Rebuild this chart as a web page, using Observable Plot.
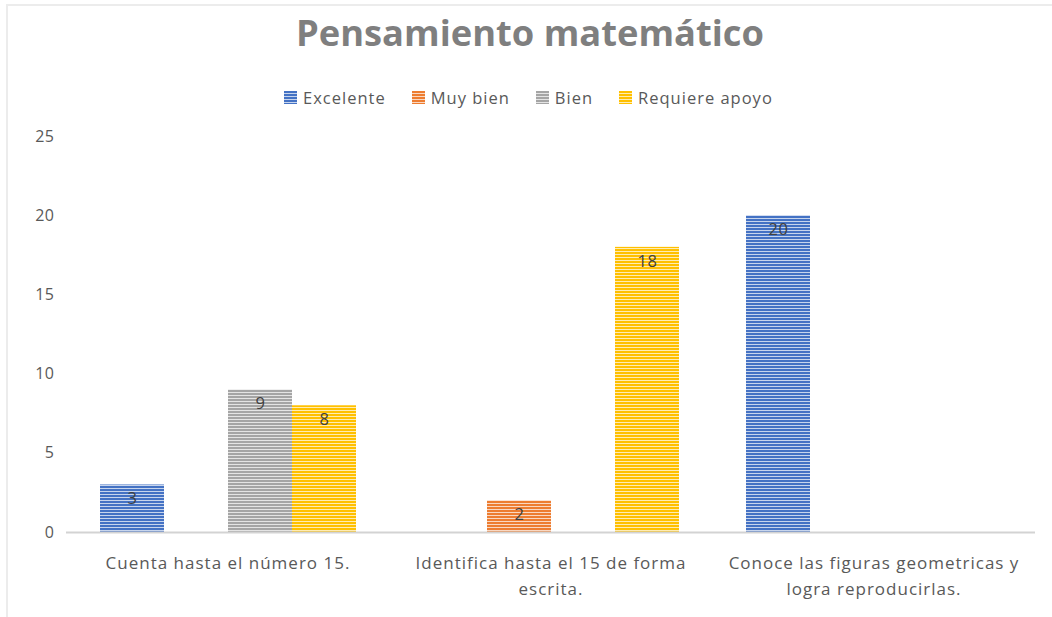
<!DOCTYPE html>
<html>
<head>
<meta charset="utf-8">
<script src="https://cdn.jsdelivr.net/npm/d3@7"></script>
<script src="https://cdn.jsdelivr.net/npm/@observablehq/plot@0.6"></script>
<style>
  html, body { margin: 0; padding: 0; background: #fff; }
  #wrap { position: relative; width: 1052px; height: 617px; overflow: hidden; font-family: "Open Sans", "Noto Sans", sans-serif; }
  #frame { position: absolute; left: 6px; top: 4px; right: -5px; bottom: -5px; border-left: 2px solid #ececec; border-top: 2px solid #ececec; }
  #title { position: absolute; left: 0; width: 1060px; top: 7px; text-align: center; font-size: 36.3px; font-weight: 700; color: #7f7f7f; }
  #legend { position: absolute; left: 284px; top: 86px; display: flex; gap: 26px; font-size: 16.5px; letter-spacing: 1px; color: #595959; white-space: nowrap; }
  #legend span.item { display: inline-flex; align-items: center; gap: 6px; }
  #legend svg { display: block; }
  #chart { position: absolute; left: 0; top: 0; }
  #chart svg text { letter-spacing: 0.5px; }
  #chart svg g.catlabel text { letter-spacing: 1px; }
</style>
</head>
<body>
<div id="wrap">
  <div id="frame"></div>
  <div id="chart"></div>
  <div id="title"></div>
  <div id="legend"></div>
</div>
<script>
const titleText = "Pensamiento matemático";
const categories = ["Cuenta hasta el número 15.", "Identifica hasta el 15 de forma escrita.", "Conoce las figuras geometricas y logra reproducirlas."];
const categoryLabels = ["Cuenta hasta el número 15.", "Identifica hasta el 15 de forma\nescrita.", "Conoce las figuras geometricas y\nlogra reproducirlas."];
const series = ["Excelente", "Muy bien", "Bien", "Requiere apoyo"];
const colors = ["#4472C4", "#ED7D31", "#A5A5A5", "#FFC000"];
const excelente = [3, 0, 20];
const muyBien = [0, 2, 0];
const bien = [9, 0, 0];
const requiereApoyo = [8, 18, 0];
const yTicks = [0, 5, 10, 15, 20, 25];

const valuesBySeries = [excelente, muyBien, bien, requiereApoyo];
const data = [];
series.forEach((s, si) => categories.forEach((c, ci) => {
  data.push({category: c, series: s, value: valuesBySeries[si][ci]});
}));
const patId = s => "pat" + series.indexOf(s);

document.getElementById("title").textContent = titleText;

const chart = Plot.plot({
  width: 1052,
  height: 617,
  marginLeft: 65,
  marginRight: 17,
  marginTop: 136,
  marginBottom: 85,
  style: {fontFamily: "'Open Sans', 'Noto Sans', sans-serif", background: "transparent", overflow: "visible"},
  fx: {domain: categories, padding: 0, axis: null},
  x: {domain: series, paddingInner: 0, paddingOuter: 0.5, axis: null},
  y: {domain: [0, 25], axis: null},
  marks: [
    Plot.barY(data.filter(d => d.value > 0), {
      fx: "category", x: "series", y: "value",
      fill: d => `url(#${patId(d.series)})`
    }),
    Plot.ruleY([0], {stroke: "#d3d3d3", strokeWidth: 2}),
    Plot.text(data.filter(d => d.value > 0), {
      fx: "category", x: "series", y: "value", text: d => String(d.value),
      dy: 14, fill: "#404040", fontSize: 16.5
    }),
    Plot.axisY({ticks: yTicks, tickSize: 0, tickPadding: 12, label: null, fontSize: 16, color: "#595959", textAnchor: "end"}),
    Plot.text(categories, {
      fx: d => d, frameAnchor: "bottom",
      text: d => categoryLabels[categories.indexOf(d)],
      dy: 17, lineAnchor: "top", fill: "#595959", fontSize: 17, lineHeight: 1.58,
      className: "catlabel"
    })
  ]
});

// Pattern defs for striped bars (Excel "narrow horizontal")
const svgNS = "http://www.w3.org/2000/svg";
function addPatterns(svg, prefix) {
  const defs = document.createElementNS(svgNS, "defs");
  colors.forEach((c, i) => {
    const p = document.createElementNS(svgNS, "pattern");
    p.setAttribute("id", prefix + i);
    p.setAttribute("patternUnits", "userSpaceOnUse");
    p.setAttribute("width", 8);
    p.setAttribute("height", 3);
    const r1 = document.createElementNS(svgNS, "rect");
    r1.setAttribute("width", 8); r1.setAttribute("height", 3); r1.setAttribute("fill", c);
    const r2 = document.createElementNS(svgNS, "rect");
    r2.setAttribute("y", 2); r2.setAttribute("width", 8); r2.setAttribute("height", 1); r2.setAttribute("fill", "#ffffff"); r2.setAttribute("fill-opacity", 0.7);
    p.appendChild(r1); p.appendChild(r2);
    defs.appendChild(p);
  });
  svg.insertBefore(defs, svg.firstChild);
}
addPatterns(chart, "pat");
document.getElementById("chart").appendChild(chart);

// Legend
const legend = document.getElementById("legend");
series.forEach((s, i) => {
  const item = document.createElement("span");
  item.className = "item";
  const sw = document.createElementNS(svgNS, "svg");
  sw.setAttribute("width", 13); sw.setAttribute("height", 13);
  const r = document.createElementNS(svgNS, "rect");
  r.setAttribute("width", 13); r.setAttribute("height", 13); r.setAttribute("fill", `url(#pat${i})`);
  sw.appendChild(r);
  item.appendChild(sw);
  const t = document.createElement("span");
  t.textContent = s;
  item.appendChild(t);
  legend.appendChild(item);
});
</script>
</body>
</html>
